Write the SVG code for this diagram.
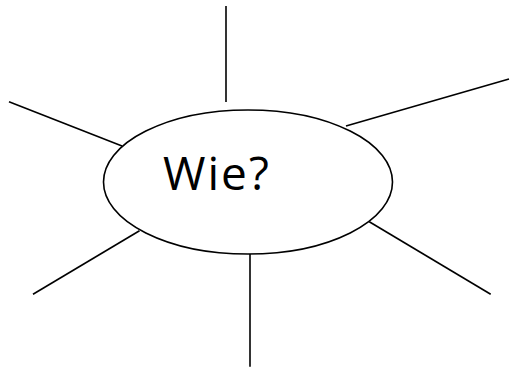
<svg xmlns="http://www.w3.org/2000/svg" width="510" height="369" viewBox="0 0 510 369">
<style>
.c{stroke:#000;stroke-width:1.6;fill:none}
.n{fill:#fff;stroke:#000;stroke-width:1.6}
.t{font-family:"Open Sans","Liberation Sans",sans-serif;font-size:46px;letter-spacing:2px;fill:#000}
</style>
<rect width="510" height="369" fill="#fff"/>
<g id="connectors">
<line class="c" x1="226" y1="6" x2="226" y2="102"/>
<line class="c" x1="9" y1="101.7" x2="122" y2="146"/>
<line class="c" x1="346" y1="126" x2="509" y2="79"/>
<line class="c" x1="33" y1="294.3" x2="139.5" y2="230.7"/>
<line class="c" x1="250" y1="254" x2="250" y2="366.7"/>
<line class="c" x1="369.3" y1="221.7" x2="490.7" y2="294.3"/>
</g>
<g id="center">
<ellipse class="n" cx="248" cy="182" rx="144.5" ry="72"/>
<text class="t" x="163" y="189.5">Wie?</text>
</g>
</svg>
